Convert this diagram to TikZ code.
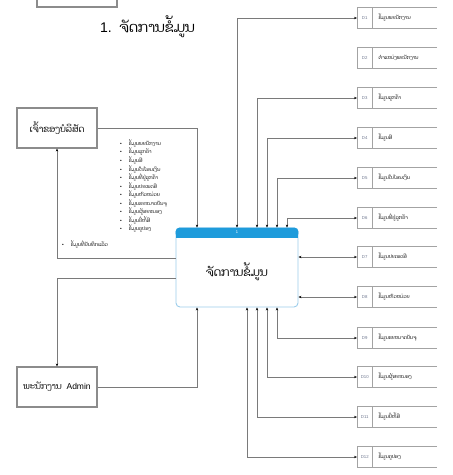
\documentclass[tikz,border=0pt]{standalone}
\usepackage{fontspec}
\setmainfont{Liberation Sans}
\newfontfamily\lao[Script=Lao]{Dhyana}
\usetikzlibrary{positioning,calc,arrows.meta}

\definecolor{hdrblue}{HTML}{1E9BDB}
\definecolor{edgeblue}{HTML}{9CCDEB}
\definecolor{boxgray}{HTML}{8C8C8C}
\definecolor{linegray}{HTML}{7A7A7A}
\definecolor{idgray}{HTML}{6F7890}

\begin{document}
\begin{tikzpicture}[x=1pt,y=-1pt,
    entity/.style={draw=boxgray,line width=1.1pt,fill=white,minimum width=80pt,minimum height=40pt,inner sep=0pt},
    proc/.style={draw=edgeblue,line width=0.9pt,rounded corners=4pt,fill=white,minimum width=122pt,minimum height=79pt,inner sep=0pt},
    sid/.style={anchor=west,minimum width=15pt,minimum height=20pt,inner sep=0pt,font=\fontsize{4.3}{4.3}\selectfont,text=idgray},
    stxt/.style={anchor=west,inner sep=0pt,font=\lao\fontsize{4.8}{4.8}\selectfont},
    sline/.style={draw=boxgray!80,line width=0.9pt},
    flow/.style={draw=linegray,line width=0.5pt,-{Stealth[length=3pt,width=2.4pt,black]}},
    both/.style={flow,{Stealth[length=3pt,width=2.4pt,black]}-{Stealth[length=3pt,width=2.4pt,black]}}]
\useasboundingbox (0,0) rectangle (453,475);

% box cut off at the top
\node[draw=boxgray,line width=1.1pt,minimum width=80pt,minimum height=14pt,inner sep=0pt] (prev) at (77,0) {};

% title
\node[anchor=west,inner sep=0pt,font=\fontsize{14}{14}\selectfont] (title) at (100,27) {1.~~{\lao ຈັດການຂໍ້ມູນ}};

% process
\node[proc] (proc) at (237,267.5) {};
\fill[hdrblue,rounded corners=4pt] (proc.north west) rectangle ($(proc.north east)+(0,10)$);
\fill[hdrblue] ($(proc.north west)+(0,5)$) rectangle ($(proc.north east)+(0,10)$);
\node[text=white,inner sep=0pt,font=\fontsize{4}{4}\selectfont] (hdr) at ($(proc.north)+(0,5)$) {1};
\node[font=\lao\fontsize{11.5}{11.5}\selectfont] (ptxt) at ($(proc.center)+(0,4)$) {ຈັດການຂໍ້ມູນ};

% external entities
\node[entity,font=\lao\fontsize{9}{9}\selectfont] (owner) at (57,128) {ເຈົ້າຂອງບໍລິສັດ};
\node[entity,font=\fontsize{8.5}{8.5}\selectfont] (admin) at (57,387) {{\lao ພະນັກງານ}~~Admin};

% data stores
\foreach \n/\yy/\txt in {1/18/{ຂໍ້ມູນພະນັກງານ},2/58/{ຕຳແໜ່ງພະນັກງານ},3/98/{ຂໍ້ມູນລູກຄ້າ},
    4/138/{ຂໍ້ມູນສີ},5/178/{ຂໍ້ມູນໃບໂອນເງິນ},6/218/{ຂໍ້ມູນທີ່ຢູ່ລູກຄ້າ},
    7/257/{ຂໍ້ມູນປະເພດສີ},8/297/{ຂໍ້ມູນຫົວໜ່ວຍ},9/338/{ຂໍ້ມູນຂະໜາດບັນຈຸ},
    10/377/{ຂໍ້ມູນຜູ້ສະໜອງ},11/417/{ຂໍ້ມູນຍີ່ຫໍ້ສີ},12/457/{ຂໍ້ມູນຄູປອງ}}{
  \node[sid] (d\n) at (357,\yy) {D\n};
  \node[stxt] (t\n) at ($(d\n.east)+(6,0)$) {\txt};
  \draw[sline] ($(d\n.north west)+(80,0)$) -- (d\n.north west) -- (d\n.south west) -- ++(80,0);
  \draw[sline] (d\n.north east) -- (d\n.south east);
}

% flows to the owner and the admin
\draw[flow] (owner.east) -| ($(proc.north)+(-40,0)$);
\draw[flow] ($(proc.west)+(0,-9.5)$) -| (owner.south);
\draw[flow] ($(proc.west)+(0,10.5)$) -| (admin.north);
\draw[flow] (admin.east) -| ($(proc.south)+(-40,0)$);

% flows to the stores
\draw[both] (d1.west) -| (proc.north);
\draw[both] (d3.west) -| ($(proc.north)+(20,0)$);
\draw[both] (d4.west) -| ($(proc.north)+(30,0)$);
\draw[both] (d5.west) -| ($(proc.north)+(40,0)$);
\draw[both] (d6.west) -| ($(proc.north)+(50,0)$);
\draw[both] (d7.west) -- (d7.west -| proc.east);
\draw[both] (d8.west) -- (d8.west -| proc.east);
\draw[both] (d9.west) -| ($(proc.south)+(40,0)$);
\draw[both] (d10.west) -| ($(proc.south)+(30,0)$);
\draw[both] (d11.west) -| ($(proc.south)+(20,0)$);
\draw[both] (d12.west) -| ($(proc.south)+(10,0)$);

% flow labels
\node[anchor=north west,inner sep=0pt,align=left,font=\fontsize{4.8}{7.1}\selectfont] (list) at (120,139.5)
  {•\hspace{7pt}{\lao ຂໍ້ມູນພະນັກງານ}\\
   •\hspace{7pt}{\lao ຂໍ້ມູນລູກຄ້າ}\\
   •\hspace{7pt}{\lao ຂໍ້ມູນສີ}\\
   •\hspace{7pt}{\lao ຂໍ້ມູນໃບໂອນເງິນ}\\
   •\hspace{7pt}{\lao ຂໍ້ມູນທີ່ຢູ່ລູກຄ້າ}\\
   •\hspace{7pt}{\lao ຂໍ້ມູນປະເພດສີ}\\
   •\hspace{7pt}{\lao ຂໍ້ມູນຫົວໜ່ວຍ}\\
   •\hspace{7pt}{\lao ຂໍ້ມູນຂະໜາດບັນຈຸ}\\
   •\hspace{7pt}{\lao ຂໍ້ມູນຜູ້ສະໜອງ}\\
   •\hspace{7pt}{\lao ຂໍ້ມູນຍີ່ຫໍ້ສີ}\\
   •\hspace{7pt}{\lao ຂໍ້ມູນຄູປອງ}};
\node[anchor=west,inner sep=0pt,font=\fontsize{4.8}{4.8}\selectfont] (saved) at (62,245)
  {•\hspace{7pt}{\lao ຂໍ້ມູນທີ່ບັນທຶກແລ້ວ}};
\end{tikzpicture}
\end{document}
